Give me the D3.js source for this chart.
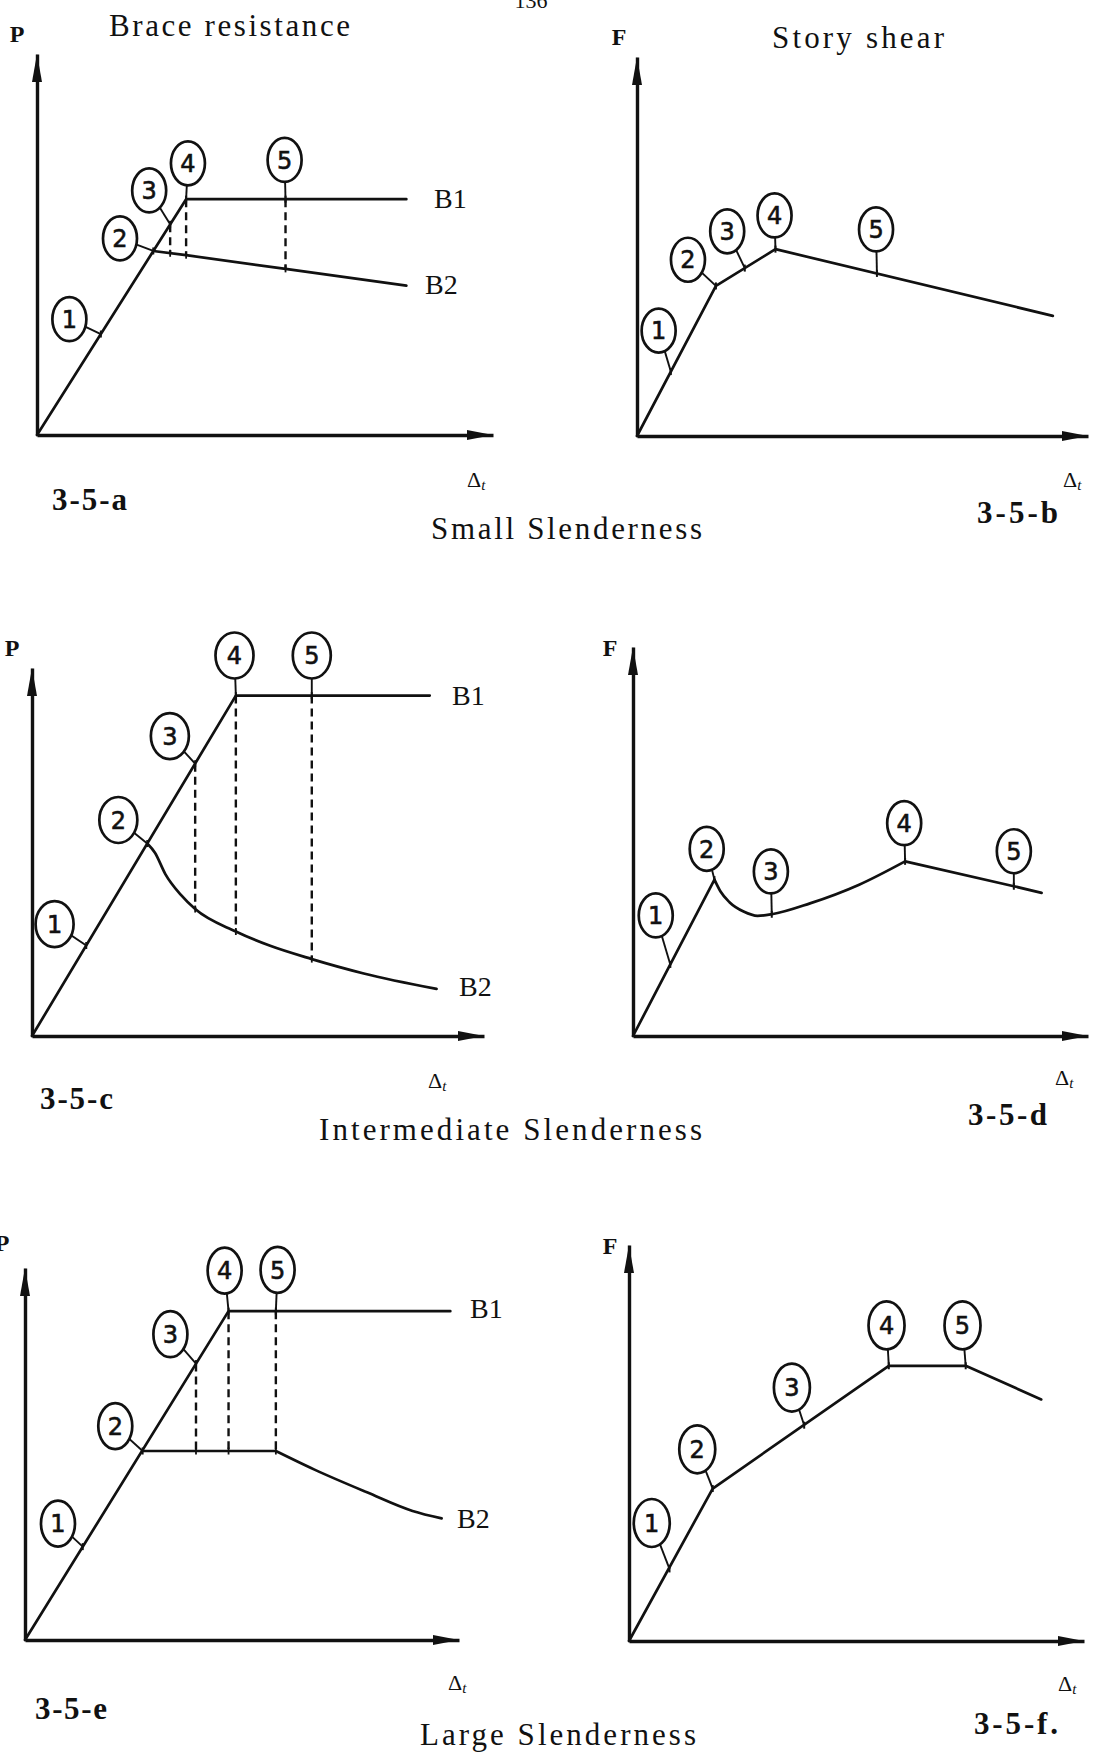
<!DOCTYPE html>
<html>
<head>
<meta charset="utf-8">
<script src="https://cdn.jsdelivr.net/npm/d3@7"></script>
<style>
  html, body { margin: 0; padding: 0; background: #fff; }
  svg { display: block; }
</style>
</head>
<body>
<svg id="fig" width="1095" height="1755"></svg>
<script>
// ---------- text ----------
const stateLabels  = ["1", "2", "3", "4", "5"];
const panelIds     = ["3-5-a", "3-5-b", "3-5-c", "3-5-d", "3-5-e", "3-5-f."];
const axisNames    = ["P", "F", "P", "F", "P", "F"];
const columnTitles = ["Brace resistance", "Story shear"];
const rowTitles    = ["Small Slenderness", "Intermediate Slenderness", "Large Slenderness"];
const branchNames  = ["B1", "B2"];
const pageNumber   = "136";

// ---------- 3-5-a : brace resistance, small slenderness (x: Δt, y: P, 0..10) ----------
const aB1      = [[0, 0], [3.27, 6.19], [8.1, 6.19]];
const aB2      = [[2.55, 4.83], [3.27, 4.72], [5.45, 4.36], [8.1, 3.92]];
const aPoints  = [[1.40, 2.65], [2.55, 4.83], [2.92, 5.53], [3.27, 6.19], [5.45, 6.19]];
const aCallout = [[0.71, 3.04], [1.82, 5.16], [2.46, 6.42], [3.31, 7.13], [5.43, 7.22]];
const aDrops   = [[2.92, 5.53, 4.77], [3.27, 6.19, 4.72], [5.45, 6.19, 4.36]];

// ---------- 3-5-b : story shear, small slenderness ----------
const bCurve   = [[0, 0], [1.75, 3.96], [3.07, 4.93], [9.22, 3.17]];
const bPoints  = [[0.75, 1.70], [1.75, 3.96], [2.39, 4.43], [3.07, 4.93], [5.32, 4.29]];
const bCallout = [[0.48, 2.78], [1.13, 4.65], [2.0, 5.4], [3.05, 5.82], [5.3, 5.45]];

// ---------- 3-5-c : brace resistance, intermediate slenderness ----------
const cB1      = [[0, 0], [4.51, 9.25], [8.8, 9.25]];
const cB2      = [[2.55, 5.23], [2.72, 4.98], [2.95, 4.40], [3.29, 3.84], [3.61, 3.45],
                  [4.51, 2.84], [5.27, 2.45], [6.19, 2.09], [7.34, 1.70], [8.95, 1.28]];
const cPoints  = [[1.2, 2.46], [2.55, 5.23], [3.61, 7.40], [4.51, 9.25], [6.19, 9.25]];
const cCallout = [[0.50, 3.04], [1.91, 5.87], [3.05, 8.15], [4.48, 10.34], [6.19, 10.34]];
const cDrops   = [[3.61, 7.40, 3.45], [4.51, 9.25, 2.84], [6.19, 9.25, 2.09]];

// ---------- 3-5-d : story shear, intermediate slenderness ----------
const dRise    = [[0, 0], [1.79, 4.02]];
const dDip     = [[1.79, 4.02], [1.92, 3.72], [2.12, 3.44], [2.43, 3.20], [2.74, 3.09],
                  [3.05, 3.13], [3.89, 3.41], [4.97, 3.89], [5.98, 4.49]];
const dFall    = [[5.98, 4.49], [8.37, 3.85], [8.98, 3.68]];
const dPoints  = [[0.82, 1.84], [1.79, 4.02], [3.05, 3.13], [5.98, 4.49], [8.37, 3.85]];
const dCallout = [[0.5, 3.1], [1.62, 4.81], [3.03, 4.23], [5.96, 5.47], [8.37, 4.75]];

// ---------- 3-5-e : brace resistance, large slenderness ----------
const eB1      = [[0, 0], [4.69, 8.84], [9.8, 8.84]];
const eB2Flat  = [[2.71, 5.08], [5.78, 5.08]];
const eB2Tail  = [[5.78, 5.08], [6.67, 4.58], [7.88, 3.97], [8.93, 3.47], [9.6, 3.27]];
const ePoints  = [[1.33, 2.51], [2.71, 5.08], [3.94, 7.43], [4.69, 8.84], [5.78, 8.84]];
const eCallout = [[0.76, 3.13], [2.08, 5.75], [3.35, 8.22], [4.6, 9.93], [5.82, 9.95]];
const eDrops   = [[3.94, 7.43, 5.08], [4.69, 8.84, 5.08], [5.78, 8.84, 5.08]];

// ---------- 3-5-f : story shear, large slenderness ----------
const fCurve   = [[0, 0], [1.84, 3.85], [5.71, 6.95], [7.40, 6.95], [9.06, 6.10]];
const fPoints  = [[0.89, 1.82], [1.84, 3.85], [3.85, 5.45], [5.71, 6.95], [7.40, 6.95]];
const fCallout = [[0.5, 2.98], [1.5, 4.84], [3.58, 6.4], [5.66, 7.97], [7.33, 7.97]];

// ---------- page layout (pixels) ----------
const frames = [
  { ox: 37,  oy: 435,  xTip: 493,  yTip: 54 },
  { ox: 637, oy: 436,  xTip: 1088, yTip: 57 },
  { ox: 32,  oy: 1036, xTip: 484,  yTip: 668 },
  { ox: 633, oy: 1036, xTip: 1088, yTip: 647 },
  { ox: 25,  oy: 1640, xTip: 459,  yTip: 1268 },
  { ox: 629, oy: 1641, xTip: 1084, yTip: 1245 }
];
const axisNamePos = [[17, 42], [619, 45], [12, 656], [610, 656], [2, 1251], [610, 1254]];
const deltaPos    = [[467, 487], [1063, 487], [428, 1088], [1055, 1085], [448, 1690], [1058, 1691]];
const idPos       = [[52, 510, 75], [977, 523, 81], [40, 1109, 73], [968, 1125, 79], [35, 1719, 72], [974, 1734, 84]];
const rowTitlePos = [[431, 539, 271], [319, 1140, 383], [420, 1745, 276]];
const colTitlePos = [[109, 36, 241], [772, 48, 172]];
const branchPos   = { 0: [[434, 208], [425, 294]], 2: [[452, 705], [459, 996]], 4: [[470, 1318], [457, 1528]] };
const bubbleSize  = [[17, 22], [17, 22], [19, 23], [17, 22], [17, 23], [18, 24]];

const panels = [
  { series: [{ pts: aB1 }, { pts: aB2 }], points: aPoints, callouts: aCallout, drops: aDrops },
  { series: [{ pts: bCurve }], points: bPoints, callouts: bCallout, drops: [] },
  { series: [{ pts: cB1 }, { pts: cB2, smooth: true }], points: cPoints, callouts: cCallout, drops: cDrops },
  { series: [{ pts: dRise }, { pts: dDip, smooth: true }, { pts: dFall }], points: dPoints, callouts: dCallout, drops: [] },
  { series: [{ pts: eB1 }, { pts: eB2Flat }, { pts: eB2Tail, smooth: true }], points: ePoints, callouts: eCallout, drops: eDrops },
  { series: [{ pts: fCurve }], points: fPoints, callouts: fCallout, drops: [] }
];

const SERIF = "'Liberation Serif', 'Times New Roman', serif";
const HAND  = "'DejaVu Sans', 'Noto Sans', sans-serif";
const ink = "#111";

const svg = d3.select("#fig");
svg.append("rect").attr("width", 1095).attr("height", 1755).attr("fill", "#fff");

panels.forEach((p, i) => {
  const f = frames[i];
  const x = d3.scaleLinear().domain([0, 10]).range([f.ox, f.xTip]);
  const y = d3.scaleLinear().domain([0, 10]).range([f.oy, f.yTip]);
  const g = svg.append("g").attr("class", "panel-" + i);

  // axes (domain lines only) with arrowheads
  const gx = g.append("g").attr("transform", `translate(0,${f.oy})`)
    .call(d3.axisBottom(x).tickValues([]).tickSizeOuter(0));
  const gy = g.append("g").attr("transform", `translate(${f.ox},0)`)
    .call(d3.axisLeft(y).tickValues([]).tickSizeOuter(0));
  [gx, gy].forEach(a => a.select(".domain").attr("stroke", ink).attr("stroke-width", 3.4));
  g.append("path")
    .attr("d", `M${f.xTip},${f.oy} L${f.xTip - 26},${f.oy - 5} L${f.xTip - 26},${f.oy + 5} Z`)
    .attr("fill", ink);
  g.append("path")
    .attr("d", `M${f.ox},${f.yTip} L${f.ox - 5},${f.yTip + 28} L${f.ox + 5},${f.yTip + 28} Z`)
    .attr("fill", ink);

  // response curves
  p.series.forEach(s => {
    const line = d3.line().x(d => x(d[0])).y(d => y(d[1]))
      .curve(s.smooth ? d3.curveMonotoneX : d3.curveLinear);
    g.append("path").attr("d", line(s.pts))
      .attr("fill", "none").attr("stroke", ink).attr("stroke-width", 2.7)
      .attr("stroke-linejoin", "round").attr("stroke-linecap", "round");
  });

  // dashed links between B1 and B2 at the same drift
  p.drops.forEach(d => {
    g.append("line")
      .attr("x1", x(d[0])).attr("x2", x(d[0]))
      .attr("y1", y(d[1])).attr("y2", y(d[2]))
      .attr("stroke", ink).attr("stroke-width", 2.4).attr("stroke-dasharray", "8,5");
    g.append("line")
      .attr("x1", x(d[0])).attr("x2", x(d[0]))
      .attr("y1", y(d[2]) - 3.5).attr("y2", y(d[2]) + 3.5)
      .attr("stroke", ink).attr("stroke-width", 1.8);
  });

  // state markers with numbered balloons
  const [rx, ry] = bubbleSize[i];
  p.points.forEach((pt, k) => {
    const c = p.callouts[k];
    const px = x(pt[0]), py = y(pt[1]);
    const cx = x(c[0]), cy = y(c[1]);
    g.append("line").attr("x1", px).attr("y1", py - 3.5).attr("x2", px).attr("y2", py + 3.5)
      .attr("stroke", ink).attr("stroke-width", 2);
    g.append("line").attr("x1", px).attr("y1", py).attr("x2", cx).attr("y2", cy)
      .attr("stroke", ink).attr("stroke-width", 1.9);
    g.append("ellipse").attr("cx", cx).attr("cy", cy).attr("rx", rx).attr("ry", ry)
      .attr("fill", "#fff").attr("stroke", ink).attr("stroke-width", 2.7);
    g.append("text").attr("x", cx).attr("y", cy).attr("dy", "0.36em")
      .attr("text-anchor", "middle").attr("font-family", HAND).attr("font-size", 24)
      .attr("stroke", ink).attr("stroke-width", 0.6)
      .attr("fill", ink).text(stateLabels[k]);
  });

  // axis name (P or F)
  g.append("text").attr("x", axisNamePos[i][0]).attr("y", axisNamePos[i][1])
    .attr("text-anchor", "middle").attr("font-family", SERIF).attr("font-weight", "bold")
    .attr("font-size", 24).attr("fill", ink).text(axisNames[i]);

  // Δt label on the drift axis
  const dt = g.append("text").attr("x", deltaPos[i][0]).attr("y", deltaPos[i][1])
    .attr("font-family", SERIF).attr("font-size", 22).attr("fill", ink);
  dt.append("tspan").text("Δ");
  dt.append("tspan").attr("font-style", "italic").attr("font-size", 15).attr("dy", 3).text("t");

  // panel id
  g.append("text").attr("x", idPos[i][0]).attr("y", idPos[i][1])
    .attr("textLength", idPos[i][2]).attr("lengthAdjust", "spacing")
    .attr("font-family", SERIF).attr("font-weight", "bold").attr("font-size", 31)
    .attr("fill", ink).text(panelIds[i]);

  // branch names for brace-resistance panels
  if (branchPos[i]) {
    branchPos[i].forEach((bp, k) => {
      g.append("text").attr("x", bp[0]).attr("y", bp[1])
        .attr("font-family", SERIF).attr("font-size", 28).attr("fill", ink)
        .text(branchNames[k]);
    });
  }
});

// column and row titles
columnTitles.forEach((t, k) => {
  svg.append("text").attr("x", colTitlePos[k][0]).attr("y", colTitlePos[k][1])
    .attr("textLength", colTitlePos[k][2]).attr("lengthAdjust", "spacing")
    .attr("font-family", SERIF).attr("font-size", 31).attr("fill", ink).text(t);
});
rowTitles.forEach((t, k) => {
  svg.append("text").attr("x", rowTitlePos[k][0]).attr("y", rowTitlePos[k][1])
    .attr("textLength", rowTitlePos[k][2]).attr("lengthAdjust", "spacing")
    .attr("font-family", SERIF).attr("font-size", 31).attr("fill", ink).text(t);
});

// page number at the top edge
svg.append("text").attr("x", 531).attr("y", 8).attr("text-anchor", "middle")
  .attr("font-family", SERIF).attr("font-size", 22).attr("fill", ink).text(pageNumber);
</script>
</body>
</html>
